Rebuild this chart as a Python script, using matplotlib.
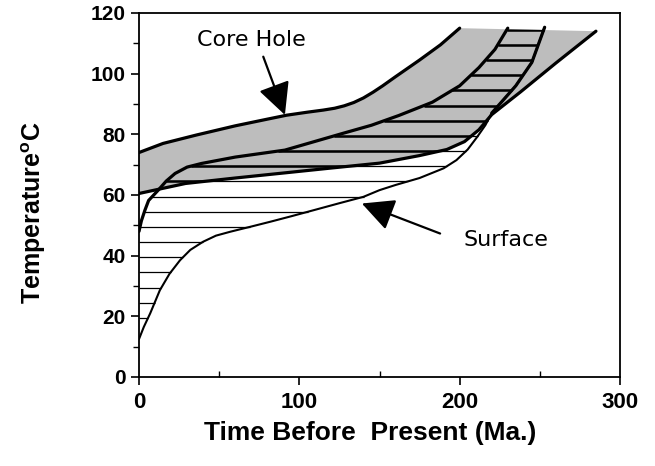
import matplotlib
matplotlib.use('Agg')
import matplotlib.pyplot as plt
import numpy as np
from matplotlib.patches import Polygon

plt.rcParams['font.family'] = ['Liberation Sans', 'DejaVu Sans']
plt.rcParams['mathtext.fontset'] = 'custom'
plt.rcParams['mathtext.rm'] = 'Liberation Sans'
plt.rcParams['mathtext.bf'] = 'Liberation Sans:bold'

# Core hole band (grey): upper and lower boundaries
core_top_x = [0, 15, 36, 60, 80, 92, 105, 115, 122, 128, 134, 140, 146, 152, 160, 175, 188, 200]
core_top_y = [74, 77, 79.8, 82.8, 85.0, 86.3, 87.3, 88.0, 88.6, 89.4, 90.5, 92.0, 93.9, 96.0, 99.0, 104.5, 109.5, 115]
core_bot_x = [0, 29, 60, 91, 120, 150, 175, 192, 203, 212, 220, 238, 260, 285]
core_bot_y = [60.5, 63.8, 65.6, 67.3, 68.9, 70.5, 73.0, 75.0, 77.6, 81.5, 86.5, 94, 103.5, 114]

# Surface band (hatched): upper boundary and surface curve
upper_x = [0, 1.5, 3.7, 6, 12, 17, 22.5, 30, 39, 60, 91, 127, 145, 162, 183, 200, 212, 222, 230]
upper_y = [48, 51.5, 55, 58.2, 61.6, 64.6, 67.1, 69.2, 70.4, 72.5, 74.8, 80.3, 83.0, 86.2, 90.6, 96, 102, 108, 115]
surf_x = [0, 3, 7, 13, 19, 25.6, 32, 40, 48, 57, 70, 82, 95, 109, 125, 140, 150, 160, 175,
          190, 198, 205, 211, 216, 220, 235, 245, 253]
surf_y = [12.5, 16.5, 21, 28.6, 34, 38.5, 41.9, 44.6, 46.6, 47.9, 49.6, 51.2, 53.0, 55, 57.3, 59.4,
          61.6, 63.3, 65.6, 68.8, 71.5, 75.0, 79.2, 83.0, 87, 96, 103.7, 115.3]

x_ticks = [0, 100, 200, 300]
y_ticks = [0, 20, 40, 60, 80, 100, 120]

fig = plt.figure(figsize=(6.55, 4.66), dpi=100)
ax = fig.add_axes([139/655, 1-377/466, 481/655, 364/466])

# grey band polygon
poly_x = list(core_top_x) + list(core_bot_x[::-1])
poly_y = list(core_top_y) + list(core_bot_y[::-1])
grey = Polygon(np.column_stack([poly_x, poly_y]), closed=True,
               facecolor='#bdbdbd', edgecolor='none', zorder=1)
ax.add_patch(grey)

# horizontal hatching between upper boundary and surface curve
levels = np.arange(114.5, 18, -5.0)
x0 = np.interp(levels, upper_y, upper_x)
x1 = np.interp(levels, surf_y, surf_x)
ok = x1 > x0
ax.hlines(levels[ok], x0[ok], x1[ok], color='black', lw=0.9, zorder=2)
thick = ax.hlines(levels[ok], x0[ok], x1[ok], color='black', lw=1.8, zorder=2)
thick.set_clip_path(grey)

# curves
kw = dict(color='black', zorder=3, solid_joinstyle='round', solid_capstyle='round')
ax.plot(core_top_x, core_top_y, lw=2.3, **kw)
ax.plot(core_bot_x, core_bot_y, lw=2.3, **kw)
ax.plot(upper_x, upper_y, lw=2.3, **kw)
ax.plot(surf_x, surf_y, lw=1.5, **kw)
sx = np.array(surf_x); sy = np.array(surf_y)
m = sx >= 220
ax.plot(sx[m], sy[m], lw=2.3, **kw)

# annotations
ax.annotate('', xy=(91, 86.4), xytext=(77.5, 105.6),
            arrowprops=dict(arrowstyle='-|>,head_length=0.9,head_width=0.45',
                            color='black', lw=1.6, mutation_scale=22, shrinkA=0, shrinkB=0))
ax.text(70.3, 111.1, 'Core Hole', ha='center', va='center', fontsize=16,
        family=['DejaVu Sans'])
ax.annotate('', xy=(139, 57.2), xytext=(187.8, 47.3),
            arrowprops=dict(arrowstyle='-|>,head_length=0.9,head_width=0.45',
                            color='black', lw=1.6, mutation_scale=22, shrinkA=0, shrinkB=0))
ax.text(228.8, 45.1, 'Surface', ha='center', va='center', fontsize=16,
        family=['DejaVu Sans'])

ax.set_xlim(0, 300)
ax.set_ylim(0, 120)
ax.set_xticks(x_ticks)
ax.set_xticks([50, 150, 250], minor=True)
ax.set_yticks(y_ticks)
ax.set_yticks(np.arange(10, 120, 20), minor=True)
for s in ax.spines.values():
    s.set_linewidth(1.3)
ax.tick_params(axis='both', which='major', direction='out', length=6, width=1.2,
               labelsize=15)
ax.tick_params(axis='x', which='major', labelsize=16, pad=5)
ax.tick_params(axis='y', which='minor', direction='out', length=4, width=1.0)
ax.tick_params(axis='x', which='minor', direction='in', length=4, width=1.0)
for lab in ax.get_xticklabels() + ax.get_yticklabels():
    lab.set_fontweight('bold')

ax.set_xlabel('Time Before  Present (Ma.)', fontsize=19, fontweight='bold')
ax.xaxis.set_label_coords(0.48, -0.12)
ax.set_ylabel(r'Temperature$^{\mathbf{o}}$C', fontsize=18, fontweight='bold')
ax.yaxis.set_label_coords(-0.19, 0.45)

fig.savefig('out.png', dpi=100)
